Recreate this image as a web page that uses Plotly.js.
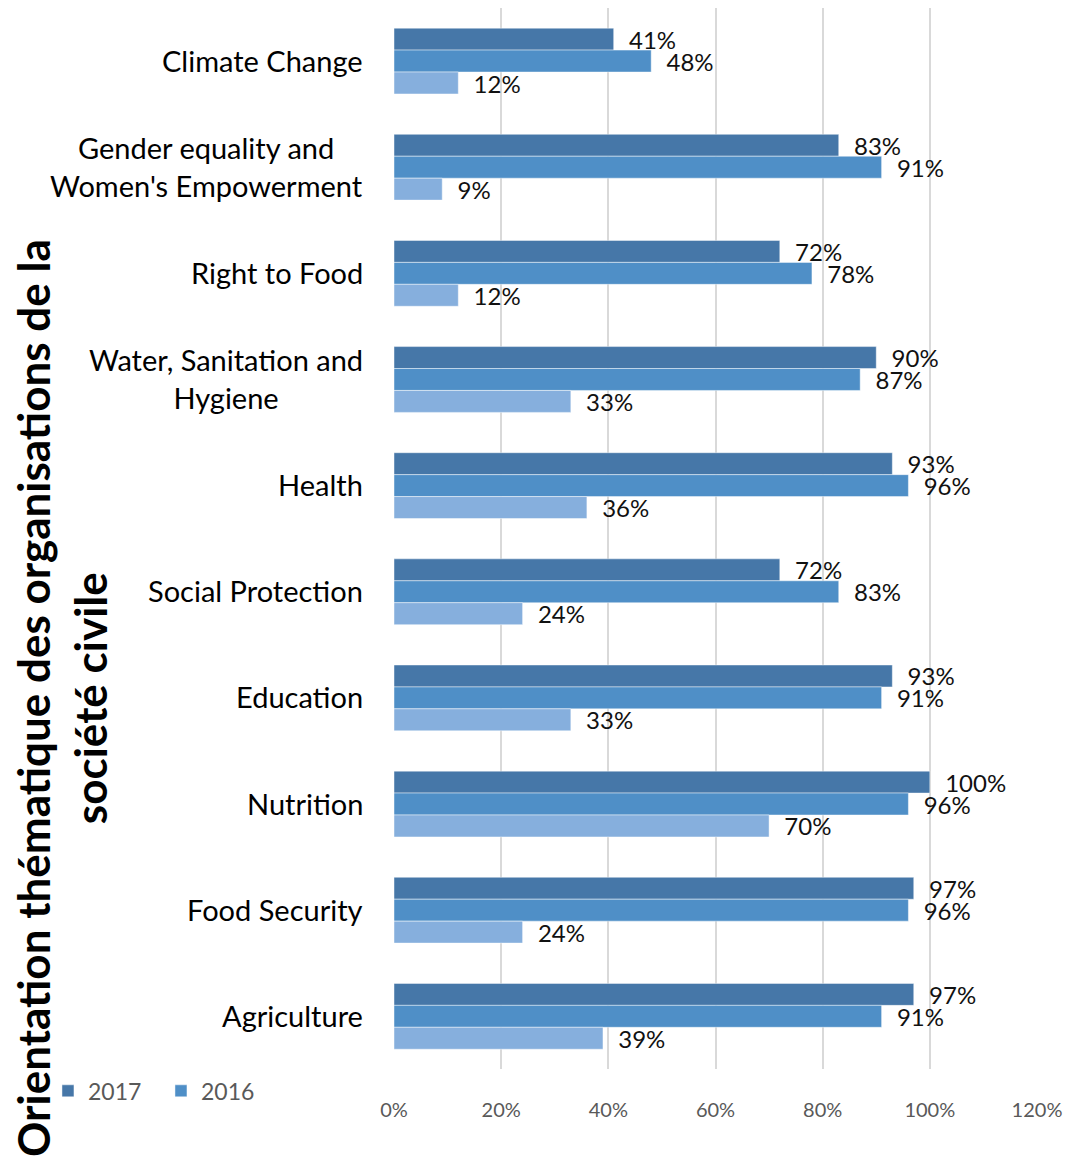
<!DOCTYPE html>
<html>
<head>
<meta charset="utf-8">
<script src="https://cdn.plot.ly/plotly-3.0.1.min.js"></script>
<style>html,body{margin:0;padding:0;background:#fff;}#chart{width:1066px;height:1173px;}</style>
</head>
<body>
<div id="chart"></div>
<script>
const categories = [
  "Climate Change",
  "Gender equality and<br>Women's Empowerment",
  "Right to Food",
  "Water, Sanitation and<br>Hygiene",
  "Health",
  "Social Protection",
  "Education",
  "Nutrition",
  "Food Security",
  "Agriculture"
];
const values2017 = [0.41, 0.83, 0.72, 0.90, 0.93, 0.72, 0.93, 1.00, 0.97, 0.97];
const values2016 = [0.48, 0.91, 0.78, 0.87, 0.96, 0.83, 0.91, 0.96, 0.96, 0.91];
const valuesThird = [0.12, 0.09, 0.12, 0.33, 0.36, 0.24, 0.33, 0.70, 0.24, 0.39];
const xTickVals = [0, 0.2, 0.4, 0.6, 0.8, 1.0, 1.2];
const xTickText = ["0%", "20%", "40%", "60%", "80%", "100%", "120%"];
const yTitle = "Orientation thématique des organisations de la<br>société civile";

const FONT = "Lato, 'Open Sans', sans-serif";
function mk(name, vals, color, showlegend) {
  return {
    type: 'bar', orientation: 'h', name: name,
    x: vals, y: categories,
    marker: {color: color, line: {color: 'rgba(255,255,255,0.45)', width: 1}},
    text: vals.map(v => '\u00a0\u00a0' + Math.round(v * 100) + '%'),
    textposition: 'outside', constraintext: 'none', cliponaxis: false,
    textfont: {family: FONT, size: 24, color: '#111'},
    showlegend: showlegend, hoverinfo: 'x+y'
  };
}
const data = [
  mk('2017', values2017, '#4677a8', true),
  mk('2016', values2016, '#4f8fc7', true),
  mk('', valuesThird, '#86afdd', false)
];
const catAnnotations = categories.map(c => ({
  xref: 'paper', yref: 'y', x: 0, y: c, xanchor: 'right', yanchor: 'middle',
  xshift: -29, yshift: 1, align: 'center', showarrow: false, text: c,
  font: {family: FONT, size: 29, color: '#000'}
}));
const layout = {
  width: 1066, height: 1173,
  margin: {l: 394, r: 29, t: 8, b: 94},
  paper_bgcolor: '#fff', plot_bgcolor: '#fff',
  barmode: 'group', bargap: 0.38, bargroupgap: 0,
  font: {family: FONT},
  xaxis: {
    range: [0, 1.2], tickvals: xTickVals, ticktext: xTickText,
    showgrid: true, gridcolor: '#d9d9d9', gridwidth: 2, zeroline: false,
    showline: false, ticks: '', tickfont: {family: FONT, size: 20, color: '#595959'},
    ticklabelstandoff: 27, fixedrange: true
  },
  yaxis: {
    autorange: 'reversed', type: 'category', showgrid: false, zeroline: false,
    showline: false, ticks: '', showticklabels: false
  },
  legend: {
    orientation: 'h', xref: 'container', yref: 'container',
    x: 0.045, y: 0.07, xanchor: 'left', yanchor: 'middle',
    font: {family: FONT, size: 23, color: '#595959'}, itemwidth: 30,
    entrywidth: 68, entrywidthmode: 'pixels',
    traceorder: 'normal', bgcolor: 'rgba(0,0,0,0)'
  },
  annotations: catAnnotations.concat([{
    xref: 'paper', yref: 'paper', x: -0.516, y: 0.350,
    xanchor: 'center', yanchor: 'middle', textangle: -90, showarrow: false,
    text: yTitle, font: {family: FONT, size: 44, color: '#000', weight: 'bold'}
  }])
};
Plotly.newPlot('chart', data, layout, {displayModeBar: false, staticPlot: true});
</script>
</body>
</html>
